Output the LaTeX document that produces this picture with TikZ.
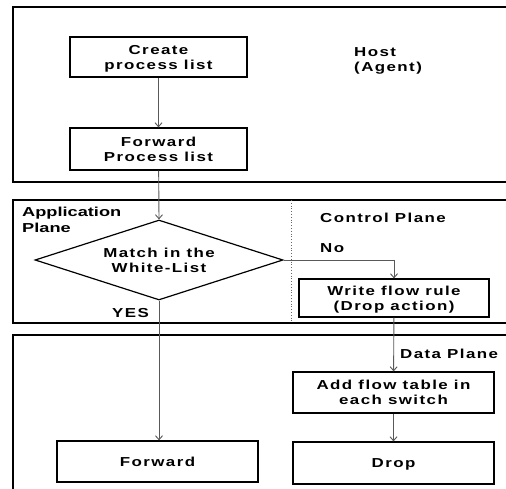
\documentclass[tikz,border=0pt]{standalone}
\usepackage{fontspec}
\setmainfont[LetterSpace=11,FakeStretch=1.3,BoldFont={Liberation Sans Bold}]{Liberation Sans}
\newfontfamily\appfont[FakeStretch=1.4,BoldFont={Liberation Sans Bold}]{Liberation Sans}
\usetikzlibrary{arrows.meta,shapes.geometric}
\begin{document}
\begin{tikzpicture}[x=1pt,y=-1pt,
  every node/.style={font=\fontsize{13}{15}\selectfont\bfseries},
  frame/.style={draw=black,line width=1.4pt},
  stepbox/.style={draw=black,line width=1.2pt,align=center,inner sep=0pt,text depth=0pt},
  conn/.style={draw=black!65,line width=0.9pt,-{Straight Barb[length=4pt,width=7pt]}},
  lbl/.style={align=left,anchor=north west,inner sep=0pt}]
\useasboundingbox (0,0) rectangle (506,489);
\clip (0,0) rectangle (506,489);
\fill[white] (0,0) rectangle (506,489);
% frames
\draw[frame] (520,7) -- (13,7) -- (13,182) -- (520,182);
\draw[frame] (520,200) -- (13,200) -- (13,323) -- (520,323);
\draw[frame] (520,335) -- (13,335) -- (13,500);
\draw[black!60,line width=0.8pt,dotted] (291,200) -- (291,323);
% labels
\node[lbl] (host) at (354,47) {Host\\(Agent)};
\node[lbl,font=\appfont\fontsize{13}{16}\selectfont\bfseries] (app) at (22,207) {Application\\Plane};
\node[lbl] (ctrl) at (320,213) {Control\ Plane};
\node[lbl] (no) at (320,243) {No};
\node[lbl] (yes) at (112,308) {YES};
\node[lbl] (data) at (400,349) {Data\ Plane};
% boxes
\node[stepbox,minimum width=177,minimum height=40] (create) at (158.5,57) {Create\\process list};
\node[stepbox,minimum width=177,minimum height=42] (fwdlist) at (158.5,149) {Forward\\Process list};
\node[draw=black,line width=1.2pt,diamond,aspect=3.1,minimum width=248,minimum height=80,inner sep=0pt,align=center,text depth=0pt] (match) at (159,260) {Match in the\\White-List};
\node[stepbox,minimum width=190,minimum height=38] (write) at (394,298) {Write flow rule\\(Drop action)};
\node[stepbox,minimum width=201,minimum height=41] (addflow) at (393.5,392.5) {Add flow table in\\each switch};
\node[stepbox,minimum width=201,minimum height=41] (fwd) at (157.5,461.5) {Forward};
\node[stepbox,minimum width=201,minimum height=42] (drop) at (393.5,463) {Drop};
% connectors
\draw[conn] (create) -- (fwdlist);
\draw[conn] (fwdlist) -- (match.north);
\draw[conn] (match.east) -| (write.north);
\draw[conn] (match.south) -- (fwd.north -| match.south);
\draw[conn] (write) -- (addflow);
\draw[conn] (addflow) -- (drop);
\end{tikzpicture}
\end{document}
